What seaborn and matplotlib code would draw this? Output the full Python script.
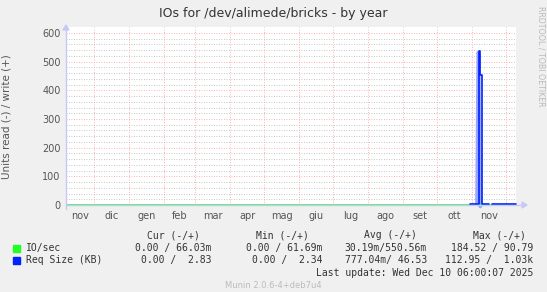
import matplotlib
matplotlib.use("Agg")
import matplotlib.pyplot as plt
import seaborn as sns
import pandas as pd
import numpy as np

# ---- data ----
month_labels = ["nov", "dic", "gen", "feb", "mar", "apr", "mag", "giu",
                "lug", "ago", "set", "ott", "nov"]
io_dates = ["2024-11-06 06:00", "2025-11-07 00:00", "2025-11-07 12:00", "2025-11-08 06:00", "2025-12-10 06:00"]
io_vals = [0, 0, 4, 0, 0]
req_dates = ["2025-10-30 10:00", "2025-11-07 03:00", "2025-11-08 13:00", "2025-11-10 00:00",
             "2025-11-16 06:00", "2025-11-18 23:00", "2025-12-10 06:00"]
req_vals = [3, 537, 453, 3, 3, 3, 3]
req_seg = [0, 0, 0, 0, 0, 1, 1]
read_dates = ["2025-11-05 12:00", "2025-11-06 16:00", "2025-11-07 06:00",
              "2025-11-08 14:00", "2025-11-09 06:00"]
read_vals = [3, 532, 525, -6, 3]
y_ticks = [0, 100, 200, 300, 400, 500, 600]

legend_header = ["Cur (-/+)", "Min (-/+)", "Avg (-/+)", "Max (-/+)"]
legend_rows = [
    ("IO/sec", "#22FF22", ["0.00 / 66.03m", "0.00 / 61.69m", "30.19m/550.56m", "184.52 / 90.79"]),
    ("Req Size (KB)", "#0022FF", ["0.00 /  2.83", "0.00 /  2.34", "777.04m/ 46.53", "112.95 /  1.03k"]),
]

sns.set_style("white")
plt.rcParams["font.family"] = ["DejaVu Sans"]

W, H = 547, 292
fig = plt.figure(figsize=(W / 100, H / 100), dpi=100)
fig.patch.set_facecolor("#F0F0F0")

x0, x1, ybot, ytop_px = 66, 516, 205, 27.3
ax = fig.add_axes([x0 / W, (H - ybot) / H, (x1 - x0) / W, (ybot - ytop_px) / H])
ax.set_facecolor("white")

io_df = pd.DataFrame({"date": pd.to_datetime(io_dates), "val": io_vals})
req_df = pd.DataFrame({"date": pd.to_datetime(req_dates), "val": req_vals, "seg": req_seg})
rd_df = pd.DataFrame({"date": pd.to_datetime(read_dates), "val": read_vals})

sns.lineplot(data=rd_df, x="date", y="val", ax=ax, color="#8898FF", lw=2.4,
             alpha=0.85, clip_on=False, zorder=3)
sns.lineplot(data=io_df, x="date", y="val", ax=ax, color="#22FF22", lw=1.2,
             drawstyle="steps-post", zorder=4)
sns.lineplot(data=req_df, x="date", y="val", units="seg", estimator=None, ax=ax,
             color="#0022FF", lw=1.2, drawstyle="steps-post", zorder=5, clip_on=False)

start = pd.Timestamp("2024-11-06 06:00")
end = pd.Timestamp("2025-12-10 06:00")
ax.set_xlim(start, end)
ax.set_ylim(0, 620)

# grid
month_starts = pd.date_range("2024-12-01", "2025-12-01", freq="MS")
for d in month_starts:
    ax.axvline(d, color="#FF9999", lw=0.6, ls=(0, (1, 2)), zorder=1)
for v in range(20, 620, 20):
    if v % 100 == 0:
        continue
    ax.axhline(v, color="#B4B4B4", lw=0.6, ls=(0, (1, 2)), zorder=1)
for v in y_ticks[1:]:
    ax.axhline(v, color="#FF9999", lw=0.6, ls=(0, (1, 2)), zorder=1)

ax.set_yticks(y_ticks)
ax.set_yticklabels([str(v) for v in y_ticks])
mids = [pd.Timestamp("2024-11-18 12:00")] + [d + (d + pd.offsets.MonthBegin(1) - d) / 2
                                              for d in month_starts[:-1]]
ax.set_xticks(mids)
ax.set_xticklabels(month_labels)
ax.tick_params(axis="both", length=0, labelsize=7, colors="#555555", pad=4)
ax.set_xlabel("")
ax.set_ylabel("Units read (-) / write (+)", fontsize=7.5, color="#555555", labelpad=22)
for s in ax.spines.values():
    s.set_visible(False)

# axes lines with arrows
axis_col = "#C8C8F8"
fig.add_artist(plt.Line2D([x0 / W, 522 / W], [(H - ybot) / H] * 2, color=axis_col, lw=1.0))
fig.add_artist(plt.Line2D([x0 / W] * 2, [(H - 209) / H, (H - 27) / H], color=axis_col, lw=1.0))
fig.patches.append(plt.Polygon([[522 / W, (H - 202) / H], [527 / W, (H - 205) / H], [522 / W, (H - 208) / H]],
                               closed=True, color=axis_col, transform=fig.transFigure))
fig.patches.append(plt.Polygon([[63 / W, (H - 30) / H], [66 / W, (H - 25) / H], [69 / W, (H - 30) / H]],
                               closed=True, color=axis_col, transform=fig.transFigure))

# texts
fig.text(273 / W, 1 - 14 / H, "IOs for /dev/alimede/bricks - by year", ha="center", va="center",
         fontsize=9, color="#333333")
fig.text(541 / W, 1 - 56 / H, "RRDTOOL / TOBI OETIKER", rotation=270, ha="center", va="center",
         fontsize=5.7, color="#BBBBBB")

mono = "DejaVu Sans Mono"
fs = 7
hdr_right = [200, 309, 417, 526]
val_right = [211, 322, 427, 533]
for t, xr in zip(legend_header, hdr_right):
    fig.text(xr / W, 1 - 235 / H, t, ha="right", va="center", family=mono, fontsize=fs, color="#333333")
for (name, col, vals), yy in zip(legend_rows, [248, 260]):
    fig.patches.append(plt.Rectangle((13 / W, 1 - (yy + 3.5) / H), 7 / W, 7 / H, color=col,
                                     transform=fig.transFigure))
    fig.text(26 / W, 1 - yy / H, name, ha="left", va="center", family=mono, fontsize=fs, color="#333333")
    for v, xr in zip(vals, val_right):
        fig.text(xr / W, 1 - yy / H, v, ha="right", va="center", family=mono, fontsize=fs, color="#333333")
fig.text(533 / W, 1 - 273 / H, "Last update: Wed Dec 10 06:00:07 2025", ha="right", va="center",
         family=mono, fontsize=fs, color="#333333")
fig.text(273 / W, 1 - 285 / H, "Munin 2.0.6-4+deb7u4", ha="center", va="center",
         fontsize=6, color="#BBBBBB")

fig.savefig("out.png", dpi=100, facecolor=fig.get_facecolor())
